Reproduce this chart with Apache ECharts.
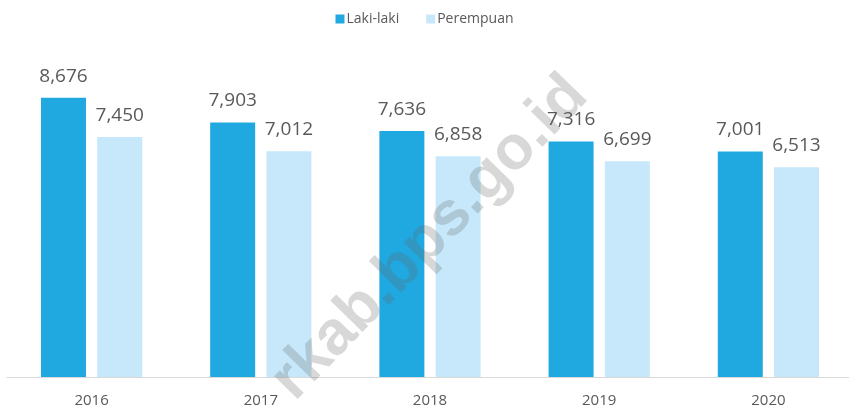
<!DOCTYPE html>
<html>
<head>
<meta charset="utf-8">
<script src="https://cdn.jsdelivr.net/npm/echarts@6/dist/echarts.min.js"></script>
<style>
  html, body { margin: 0; padding: 0; background: #fff; }
  #chart { width: 849px; height: 410px; }
</style>
</head>
<body>
<div id="chart"></div>
<script>
var tahun = ['2016', '2017', '2018', '2019', '2020'];
var lakiLaki = [8676, 7903, 7636, 7316, 7001];
var perempuan = [7450, 7012, 6858, 6699, 6513];

var chart = echarts.init(document.getElementById('chart'));

var labelStyle = {
    show: true,
    position: 'top',
    distance: 12,
    color: '#595959',
    fontFamily: 'Open Sans',
    fontSize: 19,
    formatter: function (p) {
        return p.value.toLocaleString('en-US');
    }
};

chart.setOption({
    animation: false,
    color: ['#20A9E1', '#C6E8FA'],
    legend: {
        top: 7,
        left: 'center',
        itemWidth: 9,
        itemHeight: 9,
        itemGap: 27,
        icon: 'rect',
        textStyle: { color: '#595959', fontFamily: 'Open Sans', fontSize: 14, padding: [0, 0, 0, -3] },
        data: ['Laki-laki', 'Perempuan']
    },
    grid: { left: 7, width: 846, top: 55, bottom: 33, outerBoundsMode: 'none' },
    xAxis: {
        type: 'category',
        data: tahun,
        axisLine: { lineStyle: { color: '#D9D9D9', width: 1 } },
        axisTick: { show: false },
        axisLabel: { color: '#595959', fontFamily: 'Open Sans', fontSize: 15, margin: 16 }
    },
    yAxis: {
        type: 'value',
        min: 0,
        max: 10000,
        show: false,
        splitLine: { show: false }
    },
    series: [
        {
            name: 'Laki-laki',
            type: 'bar',
            barWidth: 45,
            barGap: '25%',
            data: lakiLaki,
            label: labelStyle
        },
        {
            name: 'Perempuan',
            type: 'bar',
            barWidth: 45,
            data: perempuan,
            label: labelStyle
        }
    ],
    graphic: [
        {
            type: 'text',
            x: 430,
            y: 238,
            rotation: 0.8,
            z: 100,
            silent: true,
            style: {
                text: 'rkab.bps.go.id',
                fill: 'rgba(100,100,100,0.25)',
                font: 'bold 62px "Liberation Sans"',
                textAlign: 'center',
                textVerticalAlign: 'middle'
            }
        }
    ]
});
</script>
</body>
</html>
